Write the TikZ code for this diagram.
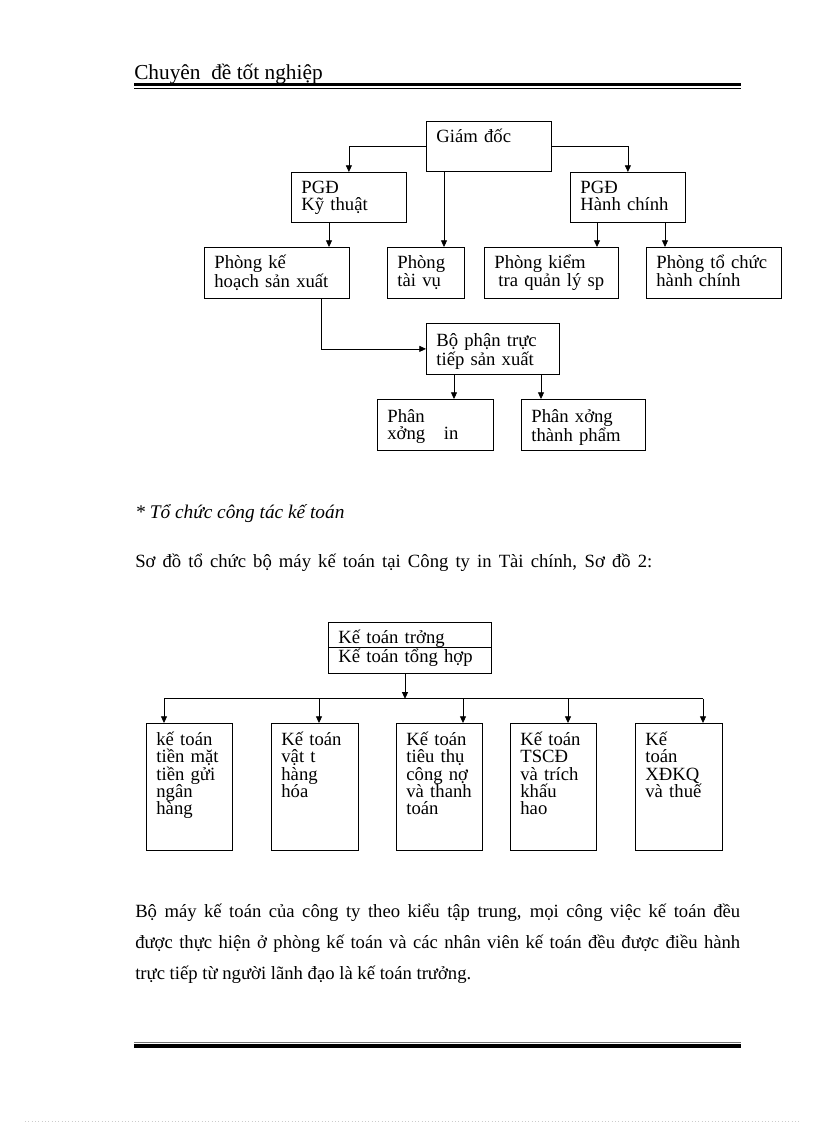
\documentclass[tikz,border=0pt]{standalone}
\usepackage{fontspec}
\setmainfont{Liberation Serif}
\usetikzlibrary{arrows.meta,calc}
\setlength{\lineskiplimit}{-20pt}

\begin{document}
\begin{tikzpicture}[x=0.75pt,y=-0.75pt,
  unit/.style={draw, line width=0.6pt, anchor=north west, align=left, inner xsep=7.5pt, inner ysep=0pt, font=\fontsize{14}{12.75}\selectfont, text height=15.75pt, text depth=21.75pt},
  colunit/.style={unit, font=\fontsize{14}{13}\selectfont, text height=16.5pt, text depth=78.75pt},
  link/.style={line width=0.6pt, -{Triangle[length=5pt,width=4.5pt]}},
  txt/.style={anchor=base west, inner sep=0pt, font=\fontsize{14}{16}\selectfont}]
\useasboundingbox (0,0) rectangle (816,1123);
\node[txt, font=\fontsize{16}{18}\selectfont] (title) at (134,80) {Chuyên\ \ đề tốt nghiệp};
\draw[line width=2.6pt] (134,84.5) -- (741,84.5);
\draw[line width=0.75pt] (134,88.5) -- (741,88.5);
\node[unit, text width=78.75pt] (gd) at (426,121) {Giám đốc};
\node[unit, text width=71.25pt] (pkt) at (291,172) {PGĐ\\Kỹ thuật};
\node[unit, text width=71.25pt] (phc) at (570,172) {PGĐ\\Hành chính};
\node[unit, text width=93.75pt, text depth=22.5pt] (pkh) at (204,247) {Phòng kế\\hoạch sản xuất};
\node[unit, text width=42.75pt, text depth=22.5pt] (ptv) at (387,247) {Phòng\\tài vụ};
\node[unit, text width=85.5pt, text depth=22.5pt] (pkiem) at (484,247) {Phòng kiểm\\\hspace*{3pt}tra quản lý sp};
\node[unit, text width=86.25pt, text depth=22.5pt] (ptc) at (646,247) {Phòng tổ chức\\hành chính};
\node[unit, text width=84.75pt, text height=17.25pt, text depth=21pt] (bp) at (426,323) {Bộ phận trực\\tiếp sản xuất};
\node[unit, text width=72pt, text height=17.25pt, text depth=21pt] (pxin) at (377,399) {Phân\\xởng\ \ \ in};
\node[unit, text width=78pt, text height=17.25pt, text depth=21pt] (pxtp) at (521,399) {Phân xởng\\thành phẩm};
\coordinate (gdtv) at ($(gd.south west)+(18,0)$);
\coordinate (ktkh) at ($(pkt.south west)+(38,0)$);
\coordinate (hckt) at ($(phc.south west)+(27,0)$);
\coordinate (hctc) at ($(phc.south west)+(95,0)$);
\coordinate (khbp) at ($(pkh.south west)+(117,0)$);
\coordinate (bpin) at ($(bp.south west)+(28,0)$);
\coordinate (bptp) at ($(bp.south west)+(115,0)$);
\draw[link] (gd.west) -| (pkt.north);
\draw[link] (gd.east) -| (phc.north);
\draw[link] (gdtv) -- (gdtv |- ptv.north);
\draw[link] (ktkh) -- (ktkh |- pkh.north);
\draw[link] (hckt) -- (hckt |- pkiem.north);
\draw[link] (hctc) -- (hctc |- ptc.north);
\draw[link] (khbp) |- (bp.west);
\draw[link] (bpin) -- (bpin |- pxin.north);
\draw[link] (bptp) -- (bptp |- pxtp.north);
\node[txt, font=\fontsize{14.5}{16}\itshape] (sub) at (135,518) {* Tổ chức công tác kế toán};
\node[txt] (cap) at (135,567) {\makebox[387.75pt][s]{Sơ đồ tổ chức bộ máy kế toán tại Công ty in Tài chính, Sơ đồ 2:}};
\node[unit, text width=107.25pt, text depth=22.5pt] (ktt) at (328,622) {Kế toán trởng\\Kế toán tổng hợp};
\draw[line width=0.6pt] ($(ktt.north west)+(0,25)$) -- ($(ktt.north east)+(0,25)$);
\node[colunit, text width=49.5pt] (b1) at (146,723) {kế toán\\tiền mặt\\tiền gửi\\ngân\\hàng};
\node[colunit, text width=50.25pt] (b2) at (271,723) {Kế toán\\vật t\\hàng\\hóa};
\node[colunit, text width=49.5pt] (b3) at (396,723) {Kế toán\\tiêu thụ\\công nợ\\và thanh\\toán};
\node[colunit, text width=49.5pt] (b4) at (510,723) {Kế toán\\TSCĐ\\và trích\\khấu\\hao};
\node[colunit, text width=50.25pt] (b5) at (635,723) {Kế\\toán\\XĐKQ\\và thuế};
\coordinate (bus) at ($(ktt.south west)+(77,25)$);
\coordinate (t1) at ($(b1.north west)+(18,0)$);
\coordinate (t2) at ($(b2.north west)+(48,0)$);
\coordinate (t3) at ($(b3.north west)+(67,0)$);
\coordinate (t4) at ($(b4.north west)+(58,0)$);
\coordinate (t5) at ($(b5.north west)+(68,0)$);
\draw[link] (ktt.south west -| bus) -- (bus);
\draw[line width=0.6pt] (t1 |- bus) -- (t5 |- bus);
\draw[link] (t1 |- bus) -- (t1);
\draw[link] (t2 |- bus) -- (t2);
\draw[link] (t3 |- bus) -- (t3);
\draw[link] (t4 |- bus) -- (t4);
\draw[link] (t5 |- bus) -- (t5);
\node[txt, text width=453.75pt, align=justify, font=\fontsize{14}{23.6}\selectfont] (para) at (135,917) {Bộ máy kế toán của công ty theo kiểu tập trung, mọi công việc kế toán đều\linebreak được thực hiện ở phòng kế toán và các nhân viên kế toán đều được điều hành\linebreak trực tiếp từ người lãnh đạo là kế toán trưởng.};
\draw[black!55, line width=0.75pt] (134,1042.5) -- (741,1042.5);
\draw[line width=2.6pt] (134,1046) -- (741,1046);
\draw[black!20, dotted, line width=0.5pt] (25,1121) -- (800,1121);
\end{tikzpicture}
\end{document}
